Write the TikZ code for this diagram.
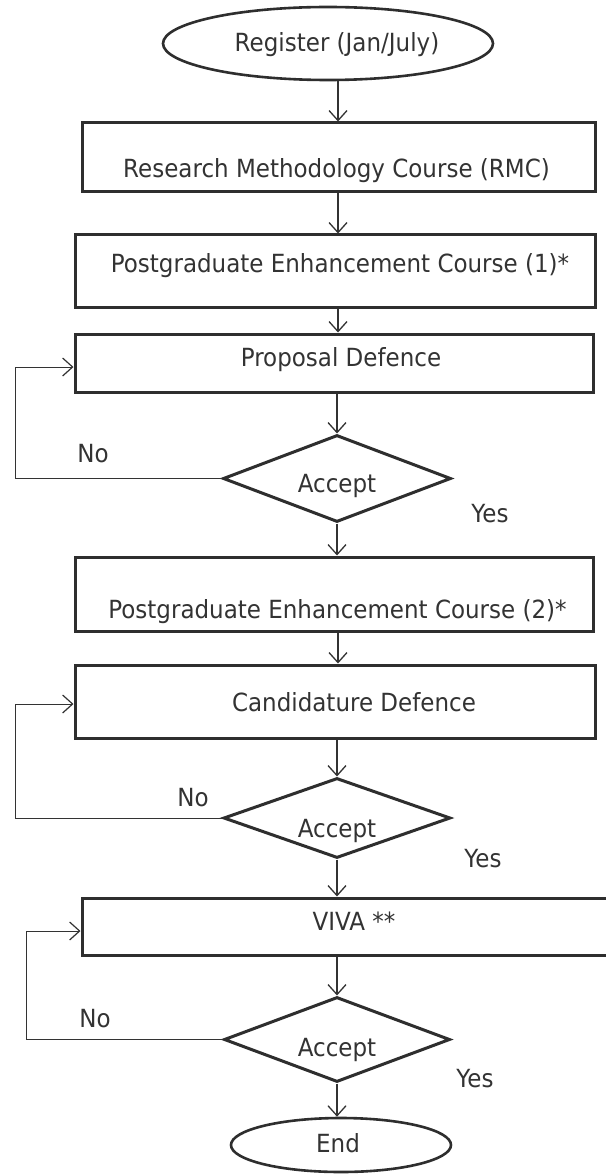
\documentclass[tikz,border=0pt]{standalone}
\usepackage{fontspec}
\setmainfont{DejaVu Sans}[FakeStretch=0.92]
\usetikzlibrary{arrows.meta,shapes.geometric}
\definecolor{ink}{HTML}{333333}
\definecolor{edge}{HTML}{2E2E2E}
\begin{document}
\begin{tikzpicture}[x=1pt,y=-1pt,
  lbl/.style={inner sep=0pt, anchor=base, text=ink, font=\fontsize{25}{29}\selectfont},
  procbox/.style={draw=edge, line width=3pt, rectangle, inner sep=0pt},
  term/.style={draw=edge, line width=2.6pt, ellipse, inner sep=0pt},
  decide/.style={draw=edge, line width=3pt, diamond, inner sep=0pt},
  flow/.style={draw=ink, line width=1.3pt, -{Straight Barb[length=10pt,width=18pt,line width=1.3pt]}},
  back/.style={draw=ink, line width=1pt, -{Straight Barb[length=10pt,width=18pt,line width=1.2pt]}}
]
\useasboundingbox[fill=white] (0,0) rectangle (605,1174);
\coordinate (ax) at (338,0);

% shapes
\node[term, minimum width=330pt, minimum height=73pt] (reg) at (328,43.5) {};
\node[procbox, minimum width=513pt, minimum height=69pt] (rmc) at (338.5,157.5) {};
\node[procbox, minimum width=520pt, minimum height=72pt] (pec1) at (335,271) {};
\node[procbox, minimum width=518pt, minimum height=58pt] (prop) at (334,363) {};
\node[decide, minimum width=228pt, minimum height=87pt] (d1) at (337,478.5) {};
\node[procbox, minimum width=518pt, minimum height=74pt] (pec2) at (334,594) {};
\node[procbox, minimum width=520pt, minimum height=73pt] (cand) at (335,701.5) {};
\node[decide, minimum width=227pt, minimum height=80pt] (d2) at (337,818) {};
\node[procbox, minimum width=543pt, minimum height=57pt] (viva) at (353.5,926.5) {};
\node[decide, minimum width=226pt, minimum height=85pt] (d3) at (337,1039.5) {};
\node[term, minimum width=220pt, minimum height=54pt] (end) at (341,1145) {};

% texts
\node[lbl] (regT) at (337,52) {Register (Jan/July)};
\node[lbl] (rmcT) at (336.5,178) {Research Methodology Course (RMC)};
\node[lbl] (pec1T) at (340,272) {Postgraduate Enhancement Course (1)*};
\node[lbl] (propT) at (341,366) {Proposal Defence};
\node[lbl] (d1T) at (337,492) {Accept};
\node[lbl] (no1) at (93,462) {No};
\node[lbl] (yes1) at (490,522) {Yes};
\node[lbl] (pec2T) at (337.5,618) {Postgraduate Enhancement Course (2)*};
\node[lbl] (candT) at (354,711) {Candidature Defence};
\node[lbl] (d2T) at (337,837) {Accept};
\node[lbl] (no2) at (193,806) {No};
\node[lbl] (yes2) at (483,867) {Yes};
\node[lbl] (vivaT) at (354,930) {VIVA **};
\node[lbl] (d3T) at (337,1056) {Accept};
\node[lbl] (no3) at (95,1027) {No};
\node[lbl] (yes3) at (475,1087) {Yes};
\node[lbl] (endT) at (338,1152) {End};

% main flow
\draw[flow] (reg.south -| ax) -- (rmc.north -| ax);
\draw[flow] (rmc.south -| ax) -- (pec1.north -| ax);
\draw[flow] (pec1.south -| ax) -- (prop.north -| ax);
\draw[flow] (prop.south -| d1.north) -- (d1.north);
\draw[flow] (d1.south) -- (pec2.north -| d1.south);
\draw[flow] (pec2.south -| ax) -- (cand.north -| ax);
\draw[flow] (cand.south -| d2.north) -- (d2.north);
\draw[flow] (d2.south) -- (viva.north -| d2.south);
\draw[flow] (viva.south -| d3.north) -- (d3.north);
\draw[flow] (d3.south) -- (end.north -| d3.south);

% No loops
\coordinate (l1) at (15,367);
\coordinate (l2) at (15,704);
\coordinate (l3) at (26,931);
\draw[back] (d1.west) -| (l1) -- (l1 -| prop.west);
\draw[back] (d2.west) -| (l2) -- (l2 -| cand.west);
\draw[back] (d3.west) -| (l3) -- (l3 -| viva.west);
\end{tikzpicture}
\end{document}
